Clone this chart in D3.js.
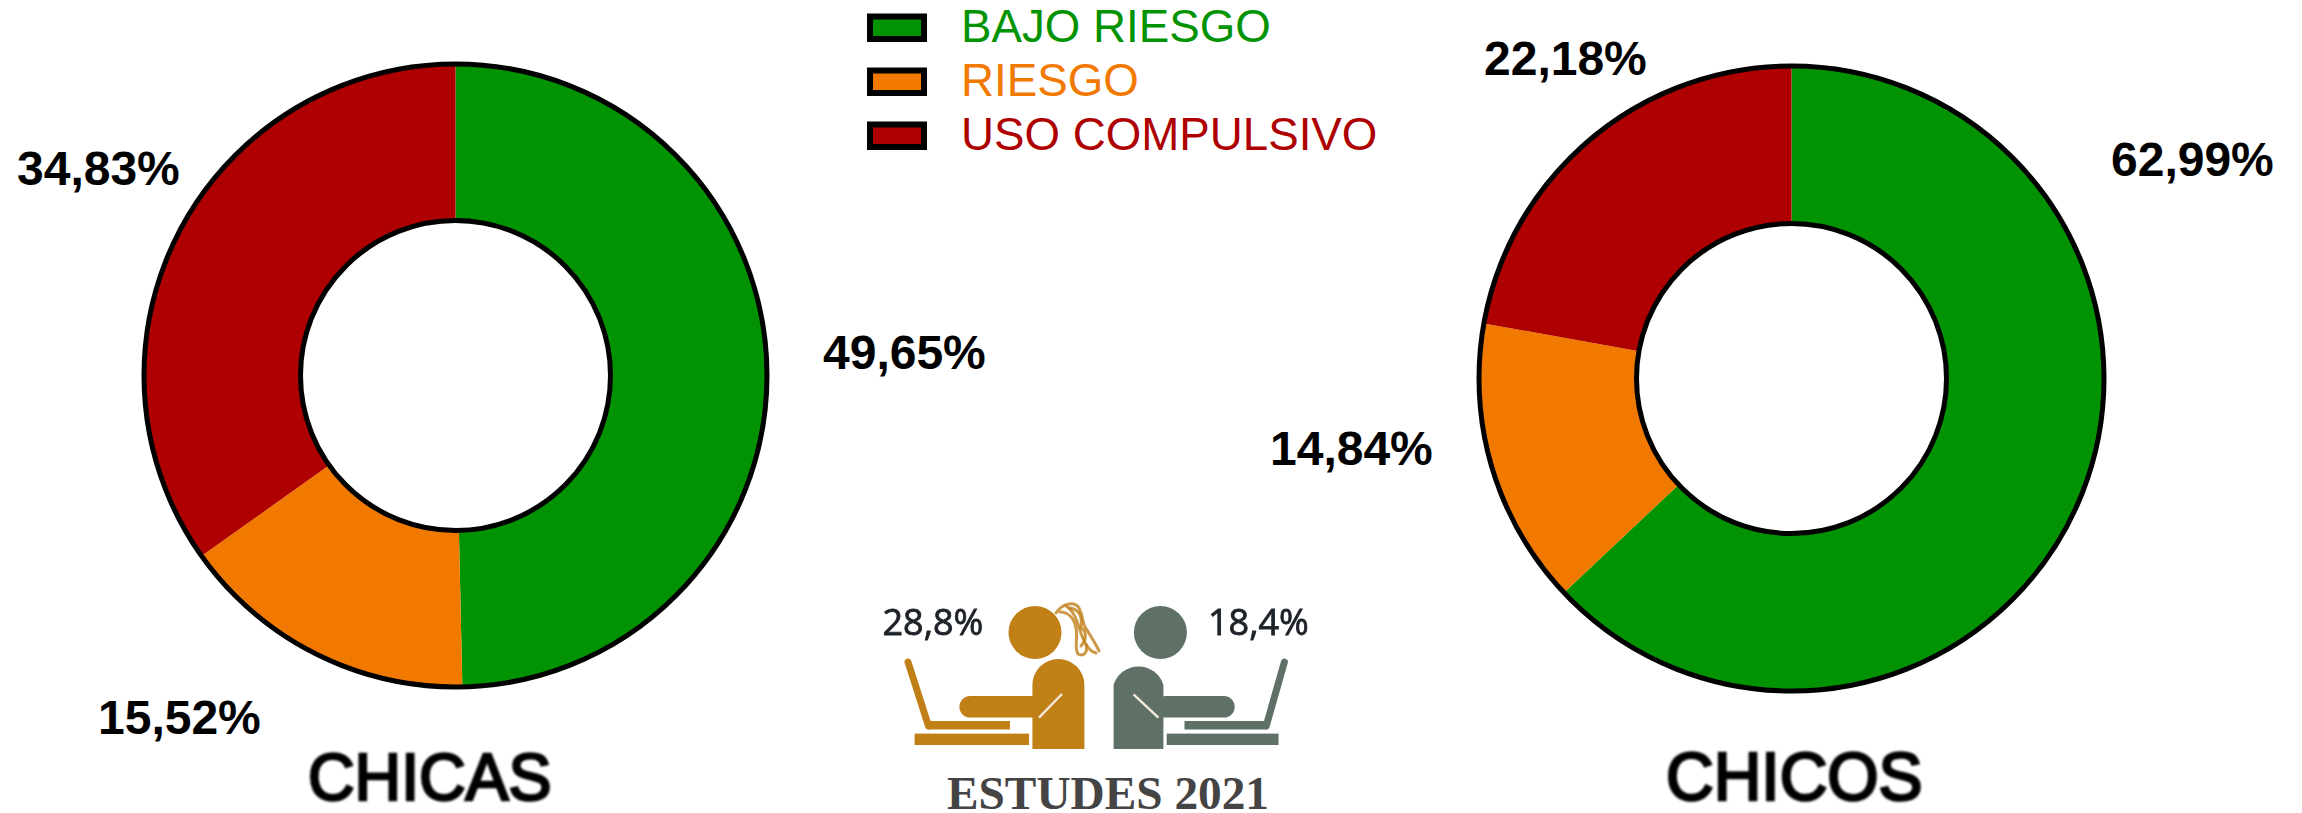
<!DOCTYPE html>
<html><head><meta charset="utf-8">
<script src="https://cdn.jsdelivr.net/npm/d3@7/dist/d3.min.js"></script>
<style>html,body{margin:0;padding:0;background:#fff}svg{display:block}</style>
</head><body><div id="c"></div>
<script>
const categories = ["BAJO RIESGO", "RIESGO", "USO COMPULSIVO"];
const chicasValues = [49.65, 15.52, 34.83];
const chicosValues = [62.99, 14.84, 22.18];
const groupNames = ["CHICAS", "CHICOS"];
const iconLabels = ["28,8%", "18,4%"];
const sourceLabel = "ESTUDES 2021";
const colors = ["#029302", "#F27900", "#AE0000"];

const fmt = v => v.toFixed(2).replace(".", ",") + "%";
const svg = d3.select("#c").append("svg").attr("width", 2302).attr("height", 813);
const color = d3.scaleOrdinal().domain(categories).range(colors);
const pie = d3.pie().sort(null).value(d => d.v);
const SANS = "'Liberation Sans', Arial, sans-serif";

const defs = svg.append("defs");
defs.append("filter").attr("id", "soft").append("feGaussianBlur").attr("stdDeviation", 1.0);
defs.append("filter").attr("id", "soft2").append("feGaussianBlur").attr("stdDeviation", 0.5);

function donut(values, o) {
  const g = svg.append("g").attr("transform", `translate(${o.cx},${o.cy})`);
  const rows = categories.map((c, i) => ({ c, v: values[i] }));
  const arc = d3.arc().innerRadius(o.r).outerRadius(o.R);
  g.selectAll("path.slice").data(pie(rows)).join("path").attr("class", "slice")
    .attr("d", arc).attr("fill", d => color(d.data.c));
  [o.R, o.r].forEach(rad => {
    g.append("path")
      .attr("d", d3.arc().innerRadius(rad).outerRadius(rad)({ startAngle: 0, endAngle: 2 * Math.PI }))
      .attr("fill", "none").attr("stroke", "#000").attr("stroke-width", 5);
  });
  values.forEach((v, i) => {
    svg.append("text").attr("x", o.lx[i]).attr("y", o.ly[i])
      .attr("font-family", SANS).attr("font-weight", 700).attr("font-size", 48).attr("fill", "#000")
      .text(fmt(v));
  });
}
donut(chicasValues, { cx: 455.5, cy: 375.5, R: 311.5, r: 155, lx: [823, 98, 17], ly: [369, 734, 185] });
donut(chicosValues, { cx: 1791.5, cy: 378.5, R: 312.5, r: 155, lx: [2111, 1270, 1484], ly: [176, 465, 75] });

// legend
const legendY = d3.scalePoint().domain(categories).range([42, 150]);
categories.forEach(c => {
  const b = legendY(c);
  svg.append("rect").attr("x", 870).attr("y", b - 25.5).attr("width", 54).attr("height", 22.5)
    .attr("fill", color(c)).attr("stroke", "#000").attr("stroke-width", 6);
  svg.append("text").attr("x", 961).attr("y", b)
    .attr("font-family", SANS).attr("font-size", 45.7).attr("fill", color(c)).text(c);
});

// group names
[[308, 800, 0, 64.5, 1.02], [1666, 799.5, 1, 66, 1.05]].forEach(([x, y, i, fs, sy]) => {
  svg.append("text").attr("transform", `translate(${x},${y}) scale(1,${sy})`).attr("font-family", SANS).attr("font-size", fs)
    .attr("fill", "#000").attr("stroke", "#000").attr("stroke-width", 2.6).attr("filter", "url(#soft)")
    .text(groupNames[i]);
});

// source
svg.append("text").attr("x", 947).attr("y", 809).attr("font-family", "'Liberation Serif', serif")
  .attr("font-weight", 700).attr("font-size", 47.3).attr("fill", "#444").text(sourceLabel);

// pictograms
function person(c, p) {
  const g = svg.append("g").attr("filter", "url(#soft2)");
  g.append("circle").attr("cx", p.hx).attr("cy", 632.4).attr("r", 26.5).attr("fill", c);
  g.append("path").attr("d", `M${p.bx0},749V685a26,26 0 0 1 ${p.bx1 - p.bx0},0V749Z`).attr("fill", c);
  g.append("rect").attr("x", p.ax).attr("y", 696).attr("width", p.aw).attr("height", 21.6).attr("rx", 10.8).attr("fill", c);
  g.append("line").attr("x1", p.d[0]).attr("y1", p.d[1]).attr("x2", p.d[2]).attr("y2", p.d[3]).attr("stroke", "#f3e9da").attr("stroke-width", 2.4);
  g.append("line").attr("x1", p.s[0]).attr("y1", p.s[1]).attr("x2", p.s[2]).attr("y2", p.s[3]).attr("stroke", c).attr("stroke-width", 7).attr("stroke-linecap", "round");
  g.append("rect").attr("x", p.lx).attr("y", 721).attr("width", 82).attr("height", 8.5).attr("fill", c);
  g.append("rect").attr("x", p.tx).attr("y", 733.6).attr("width", p.tw).attr("height", 11.4).attr("fill", c);
}
person("#C08018", { hx: 1035, bx0: 1032.4, bx1: 1084.4, ax: 959.4, aw: 82, d: [1062, 694, 1039, 717.6], s: [908, 662, 928.5, 726], lx: 928, tx: 914.6, tw: 114.4 });
person("#5F6F66", { hx: 1160.4, bx0: 1113.6, bx1: 1163.4, ax: 1155, aw: 79.7, d: [1133.5, 694.4, 1158.4, 717.6], s: [1284.4, 662, 1266.2, 726], lx: 1184.5, tx: 1166.7, tw: 111.8 });

const hair = svg.append("g").attr("fill", "none").attr("stroke", "#C08018").attr("stroke-linecap", "round").attr("filter", "url(#soft2)");
["M1056,613C1062,604 1074,600 1079,608C1084,618 1082,625 1087,630C1092,638 1096,644 1099,651",
 "M1060,612C1068,612 1074,618 1076,628C1078,638 1074,648 1078,654C1084,657 1088,652 1086,645",
 "M1066,606C1076,612 1078,626 1082,636C1086,646 1090,652 1096,653",
 "M1070,608C1082,610 1082,620 1081,628C1088,632 1086,640 1081,646"
].forEach(d => hair.append("path").attr("d", d).attr("stroke-width", 3).attr("opacity", 0.8));

[[882.5, 0], [1208, 1]].forEach(([x, i]) => {
  svg.append("text").attr("x", x).attr("y", 634.7).attr("font-family", "'Open Sans', sans-serif")
    .attr("font-size", 36).attr("fill", "#1c2128").attr("stroke", "#1c2128").attr("stroke-width", 0.8).attr("filter", "url(#soft2)").text(iconLabels[i]);
});
</script></body></html>
